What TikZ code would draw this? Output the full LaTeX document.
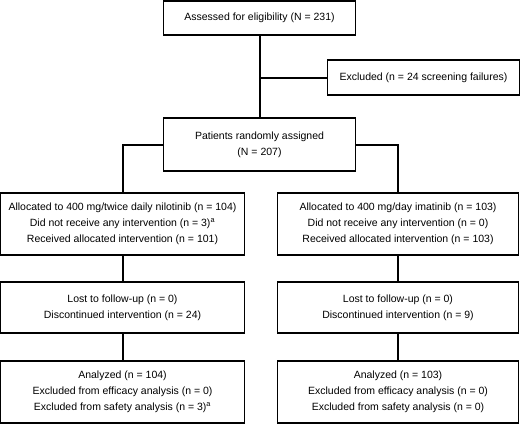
\documentclass[tikz,border=0pt]{standalone}
\usepackage{fontspec}
\setmainfont{Liberation Sans}
\usetikzlibrary{positioning}

\begin{document}
\begin{tikzpicture}[x=1pt, y=-1pt,
    box/.style={draw, line width=1.2pt, align=center, inner sep=0pt,
      font=\fontsize{10.5}{16}\selectfont},
    link/.style={draw, line width=2pt}]
  \useasboundingbox (0,0) rectangle (520,424);
  % enrollment
  \node[box, minimum width=192pt, minimum height=34pt] (assess) at (259.5,18) {Assessed for eligibility (N = 231)};
  \node[box, minimum width=192pt, minimum height=35pt] (excl) at (423.5,77.5) {Excluded (n = 24 screening failures)};
  \node[box, minimum width=192pt, minimum height=53pt] (rand) at (259.5,144.5) {Patients randomly assigned\\(N = 207)};
  % nilotinib arm
  \node[box, minimum width=244pt, minimum height=62pt] (allocL) at (122.5,224) {Allocated to 400 mg/twice daily nilotinib (n = 104)\\Did not receive any intervention (n = 3)\textsuperscript{a}\\Received allocated intervention (n = 101)};
  \node[box, minimum width=244pt, minimum height=51pt] (lostL) at (122.5,307.5) {Lost to follow-up (n = 0)\\Discontinued intervention (n = 24)};
  \node[box, minimum width=244pt, minimum height=62pt] (anaL) at (122.5,392) {Analyzed (n = 104)\\Excluded from efficacy analysis (n = 0)\\Excluded from safety analysis (n = 3)\textsuperscript{a}};
  % imatinib arm
  \node[box, minimum width=241pt, minimum height=62pt] (allocR) at (398,224) {Allocated to 400 mg/day imatinib (n = 103)\\Did not receive any intervention (n = 0)\\Received allocated intervention (n = 103)};
  \node[box, minimum width=241pt, minimum height=51pt] (lostR) at (398,307.5) {Lost to follow-up (n = 0)\\Discontinued intervention (n = 9)};
  \node[box, minimum width=241pt, minimum height=62pt] (anaR) at (398,392) {Analyzed (n = 103)\\Excluded from efficacy analysis (n = 0)\\Excluded from safety analysis (n = 0)};
  % connectors
  \coordinate (split) at (assess.south |- excl.west);
  \path[link] (assess) -- (rand);
  \path[link] (split) -- (excl);
  \path[link] (rand.west) -| (allocL);
  \path[link] (rand.east) -| (allocR);
  \path[link] (allocL) -- (lostL);
  \path[link] (lostL) -- (anaL);
  \path[link] (allocR) -- (lostR);
  \path[link] (lostR) -- (anaR);
\end{tikzpicture}
\end{document}
